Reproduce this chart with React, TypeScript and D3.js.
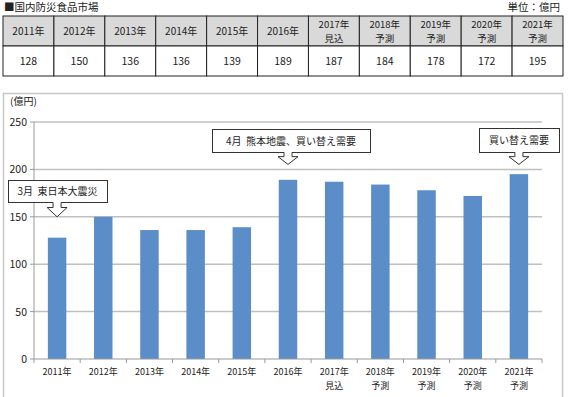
import React from "react";
import * as d3 from "d3";

const headers: string[][] = [
  ["2011年"], ["2012年"], ["2013年"], ["2014年"], ["2015年"], ["2016年"],
  ["2017年", "見込"], ["2018年", "予測"], ["2019年", "予測"], ["2020年", "予測"], ["2021年", "予測"],
];
const values: number[] = [128, 150, 136, 136, 139, 189, 187, 184, 178, 172, 195];
const yTicks: number[] = [0, 50, 100, 150, 200, 250];
const callouts = [
  { text: "3月  東日本大震災", idx: 0, x0: 8, x1: 107, y0: 180, y1: 202 },
  { text: "4月  熊本地震、買い替え需要", idx: 5, x0: 212, x1: 370, y0: 129, y1: 152 },
  { text: "買い替え需要", idx: 10, x0: 479, x1: 559, y0: 128, y1: 152 },
];

const FONT = "'Noto Sans CJK JP', sans-serif";

export default function App() {
  const W = 570, H = 397;
  const tX0 = 3, tX1 = 563, tY0 = 16, tY1 = 46, tY2 = 76;
  const colW = (tX1 - tX0) / headers.length;

  const x = d3.scaleBand<number>().domain(d3.range(values.length)).range([34, 542]).paddingInner(0.6).paddingOuter(0.3);
  const xb = d3.scaleBand<number>().domain(d3.range(values.length)).range([34, 542]);
  const y = d3.scaleLinear().domain([0, 250]).range([359, 122]);

  const arrow = (cx: number, yb: number, tip: number) => {
    const s = 4, h = 10, m = yb + (tip - yb) * 0.35;
    return `M${cx - s},${yb} L${cx - s},${m} L${cx - h},${m} L${cx},${tip} L${cx + h},${m} L${cx + s},${m} L${cx + s},${yb}`;
  };

  return (
    <svg width={W} height={H} style={{ position: "absolute", left: 0, top: 0, background: "#fff" }} fontFamily={FONT}>
      <rect x={0} y={0} width={W} height={H} fill="#fff" />
      <text x={4} y={11} fontSize={10.5} fill="#222">■国内防災食品市場</text>
      <text x={560} y={11} fontSize={10.5} fill="#222" textAnchor="end">単位：億円</text>
      {/* table */}
      {headers.map((h, i) => (
        <g key={i}>
          <rect x={tX0 + i * colW} y={tY0} width={colW} height={tY1 - tY0} fill="#d9d9d9" stroke="#222" strokeWidth={1} />
          <rect x={tX0 + i * colW} y={tY1} width={colW} height={tY2 - tY1} fill="#fff" stroke="#222" strokeWidth={1} />
          {h.length === 1 ? (
            <text x={tX0 + (i + 0.5) * colW} y={tY0 + 19} fontSize={10} textAnchor="middle" fill="#222">{h[0]}</text>
          ) : (
            <>
              <text x={tX0 + (i + 0.5) * colW} y={tY0 + 12} fontSize={9.5} textAnchor="middle" fill="#222">{h[0]}</text>
              <text x={tX0 + (i + 0.5) * colW} y={tY0 + 26} fontSize={9.5} textAnchor="middle" fill="#222">{h[1]}</text>
            </>
          )}
          <text x={tX0 + (i + 0.5) * colW} y={tY1 + 19} fontSize={10.5} textAnchor="middle" fill="#222">{values[i]}</text>
        </g>
      ))}
      {/* chart border */}
      <rect x={3.5} y={93.5} width={559} height={310} fill="#fff" stroke="#c8c8c8" strokeWidth={1.5} />
      <text x={10} y={105} fontSize={10} fill="#222">(億円)</text>
      {/* grid */}
      {yTicks.map((t) => (
        <g key={t}>
          {t > 0 && <line x1={34} x2={542} y1={y(t)} y2={y(t)} stroke="#c0c0c0" strokeWidth={1.5} />}
          <line x1={30} x2={34} y1={y(t)} y2={y(t)} stroke="#999" />
          <text x={27} y={y(t) + 4} fontSize={10.5} textAnchor="end" fill="#222">{t}</text>
        </g>
      ))}
      <line x1={34} x2={34} y1={y(250)} y2={y(0)} stroke="#999" />
      {/* bars */}
      {values.map((v, i) => (
        <rect key={i} x={x(i)} y={y(v)} width={x.bandwidth()} height={y(0) - y(v)} fill="#5b8dc9" />
      ))}
      <line x1={34} x2={542} y1={y(0)} y2={y(0)} stroke="#999" />
      {d3.range(values.length + 1).map((i) => {
        const px = 34 + i * xb.bandwidth();
        return <line key={i} x1={px} x2={px} y1={y(0)} y2={y(0) + 4} stroke="#999" />;
      })}
      {headers.map((h, i) => (
        <g key={i}>
          {h.map((line, j) => (
            <text key={j} x={(xb(i) as number) + xb.bandwidth() / 2} y={375 + j * 13.5} fontSize={9} textAnchor="middle" fill="#222">{line}</text>
          ))}
        </g>
      ))}
      {/* callouts */}
      {callouts.map((c, k) => {
        const cx = (xb(c.idx) as number) + xb.bandwidth() / 2;
        const tip = y(c.idx === 0 ? 150 : 200) + (c.idx === 0 ? 0 : -5);
        return (
          <g key={k}>
            <rect x={c.x0 + 0.5} y={c.y0 + 0.5} width={c.x1 - c.x0} height={c.y1 - c.y0} fill="#fff" stroke="#333" strokeWidth={1} />
            <text x={(c.x0 + c.x1) / 2} y={(c.y0 + c.y1) / 2 + 4} fontSize={10} textAnchor="middle" fill="#222" style={{ whiteSpace: "pre" }}>{c.text}</text>
            <path d={arrow(cx, c.y1 + 0.5, tip)} fill="#fff" stroke="#333" strokeWidth={1} />
            <line x1={cx - 3.5} x2={cx + 3.5} y1={c.y1 + 0.5} y2={c.y1 + 0.5} stroke="#fff" strokeWidth={1.5} />
          </g>
        );
      })}
    </svg>
  );
}
